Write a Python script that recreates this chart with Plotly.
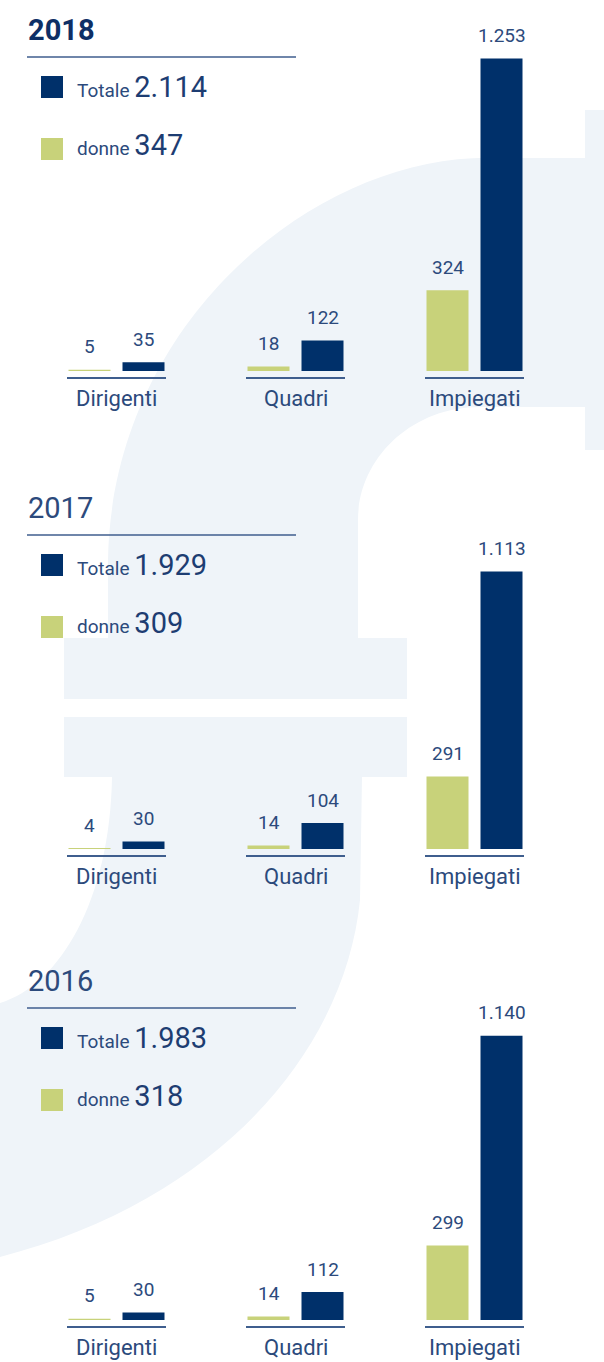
import plotly.graph_objects as go

W, H = 604, 1362

# ---------------- data ----------------
categories = ["Dirigenti", "Quadri", "Impiegati"]
years = ["2018", "2017", "2016"]
totale_anno = [2114, 1929, 1983]
donne_anno = [347, 309, 318]

totale_2018 = [35, 122, 1253]
donne_2018 = [5, 18, 324]
totale_2017 = [30, 104, 1113]
donne_2017 = [4, 14, 291]
totale_2016 = [30, 112, 1140]
donne_2016 = [5, 14, 299]

totale_per_anno = [totale_2018, totale_2017, totale_2016]
donne_per_anno = [donne_2018, donne_2017, donne_2016]

# ---------------- style ----------------
NAVY = "#00306a"
GREEN = "#c8d27a"
TEXT = "#2c4a7c"
NUM = "#1d3d72"
LINE = "#3f5e8e"
BG = "#eff4f9"
FONT = "Roboto, 'Open Sans', sans-serif"

panel_top = [0, 478, 951]
panel_base = [371, 849, 1320]
K = 4.01            # value units per pixel
CAT_PX = 179        # pixels between categories
X0_PX = 116.5       # pixel centre of first category
BAR_W = 42 / CAT_PX
GAP = 12 / CAT_PX


def px(x):
    return x / W


def py(y):
    return 1 - y / H


def fmt(v):
    return f"{v:,}".replace(",", ".")


def path(cmds):
    out = []
    for c, pts in cmds:
        if c == "Z":
            out.append("Z")
        elif c == "C":
            for k in range(0, len(pts), 3):
                out.append("C " + " ".join(f"{px(x):.5f},{py(y):.5f}" for x, y in pts[k:k + 3]))
        else:
            for x, y in pts:
                out.append(f"{c} {px(x):.5f},{py(y):.5f}")
    return " ".join(out)


fig = go.Figure()
annotations = []
shapes = []

# ---------------- background decoration ----------------
bg_paths = [
    path([
        ("M", [(108, 638)]), ("L", [(108, 560)]),
        ("C", [(112, 320), (320, 150), (500, 158)]),
        ("L", [(585, 158), (585, 110), (604, 110), (604, 450), (585, 450), (585, 407), (480, 407)]),
        ("C", [(410, 407), (358, 460), (358, 520)]),
        ("L", [(358, 638), (407, 638), (407, 699), (64, 699), (64, 638)]),
        ("Z", []),
    ]),
    path([
        ("M", [(64, 717)]),
        ("L", [(407, 717), (407, 777), (362, 777), (360, 900)]),
        ("C", [(345, 1050), (220, 1200), (0, 1257)]),
        ("L", [(0, 1003)]),
        ("C", [(60, 985), (110, 900), (112, 777)]),
        ("L", [(64, 777)]),
        ("Z", []),
    ]),
]
for p in bg_paths:
    shapes.append(dict(type="path", path=p, xref="paper", yref="paper",
                       fillcolor=BG, line=dict(width=0), layer="below"))

# ---------------- panels ----------------
for i, year in enumerate(years):
    xa = "x" if i == 0 else f"x{i+1}"
    ya = "y" if i == 0 else f"y{i+1}"
    T, B = panel_top[i], panel_base[i]
    donne = donne_per_anno[i]
    totale = totale_per_anno[i]

    fig.add_bar(x=categories, y=donne, marker=dict(color=GREEN, line=dict(width=0)),
                width=BAR_W, offset=-(GAP / 2 + BAR_W), xaxis=xa, yaxis=ya,
                showlegend=False, name="donne")
    fig.add_bar(x=categories, y=totale, marker=dict(color=NAVY, line=dict(width=0)),
                width=BAR_W, offset=GAP / 2, xaxis=xa, yaxis=ya,
                showlegend=False, name="Totale")

    bottom_px = min(B + 45, H)
    top_px = T + 40
    fig.layout[("xaxis" if i == 0 else f"xaxis{i+1}")] = dict(
        domain=[0, 1], anchor=ya, type="category", categoryorder="array",
        categoryarray=categories,
        range=[-X0_PX / CAT_PX, (W - X0_PX) / CAT_PX],
        visible=False, fixedrange=True)
    fig.layout[("yaxis" if i == 0 else f"yaxis{i+1}")] = dict(
        domain=[py(bottom_px), py(top_px)], anchor=xa,
        range=[-(bottom_px - B) * K, (B - top_px) * K],
        visible=False, fixedrange=True)

    # value labels
    for j, cat in enumerate(categories):
        annotations.append(dict(x=j - GAP / 2 - BAR_W / 2, y=donne[j], xref=xa, yref=ya,
                                text=fmt(donne[j]), showarrow=False, yshift=23,
                                yanchor="middle", xanchor="center",
                                font=dict(family=FONT, size=19, color=TEXT)))
        annotations.append(dict(x=j + GAP / 2 + BAR_W / 2, y=totale[j], xref=xa, yref=ya,
                                text=fmt(totale[j]), showarrow=False, yshift=23,
                                yanchor="middle", xanchor="center",
                                font=dict(family=FONT, size=19, color=TEXT)))
        # category label
        annotations.append(dict(x=j, y=-27 * K, xref=xa, yref=ya, text=cat,
                                showarrow=False, yanchor="middle", xanchor="center",
                                font=dict(family=FONT, size=22, color=TEXT)))
        # underline
        shapes.append(dict(type="line", xref=xa, yref=ya,
                           x0=j - 49.5 / CAT_PX, x1=j + 49.5 / CAT_PX,
                           y0=-7 * K, y1=-7 * K, line=dict(color=LINE, width=2)))

    # title
    annotations.append(dict(x=px(26), y=py(T + 30), xref="paper", yref="paper",
                            text=(f"<b>{year}</b>" if i == 0 else year),
                            showarrow=False, xanchor="left", yanchor="middle",
                            font=dict(family=FONT, size=29, color=("#0e2f66" if i == 0 else TEXT))))
    shapes.append(dict(type="line", xref="paper", yref="paper",
                       x0=px(27), x1=px(296), y0=py(T + 57), y1=py(T + 57),
                       line=dict(color=LINE, width=1.5)))

    # legend squares
    shapes.append(dict(type="rect", xref="paper", yref="paper",
                       x0=px(41), x1=px(63), y0=py(T + 76), y1=py(T + 98),
                       fillcolor=NAVY, line=dict(width=0)))
    shapes.append(dict(type="rect", xref="paper", yref="paper",
                       x0=px(41), x1=px(63), y0=py(T + 138), y1=py(T + 160),
                       fillcolor=GREEN, line=dict(width=0)))
    # legend texts
    annotations.append(dict(x=px(75), y=py(T + 87), xref="paper", yref="paper",
                            text=f"Totale <span style='font-size:29px;color:{NUM}'>{fmt(totale_anno[i])}</span>",
                            showarrow=False, xanchor="left", yanchor="middle",
                            font=dict(family=FONT, size=19, color=TEXT)))
    annotations.append(dict(x=px(75), y=py(T + 145), xref="paper", yref="paper",
                            text=f"donne <span style='font-size:29px;color:{NUM}'>{fmt(donne_anno[i])}</span>",
                            showarrow=False, xanchor="left", yanchor="middle",
                            font=dict(family=FONT, size=19, color=TEXT)))

fig.update_layout(
    width=W, height=H,
    margin=dict(l=0, r=0, t=0, b=0, pad=0),
    paper_bgcolor="white", plot_bgcolor="rgba(0,0,0,0)",
    barmode="overlay", showlegend=False, hovermode=False,
    annotations=annotations, shapes=shapes,
    font=dict(family=FONT, color=TEXT),
)

fig.write_html("out.html", config={"displayModeBar": False, "staticPlot": True},
               post_script="document.body.style.margin='0';")
